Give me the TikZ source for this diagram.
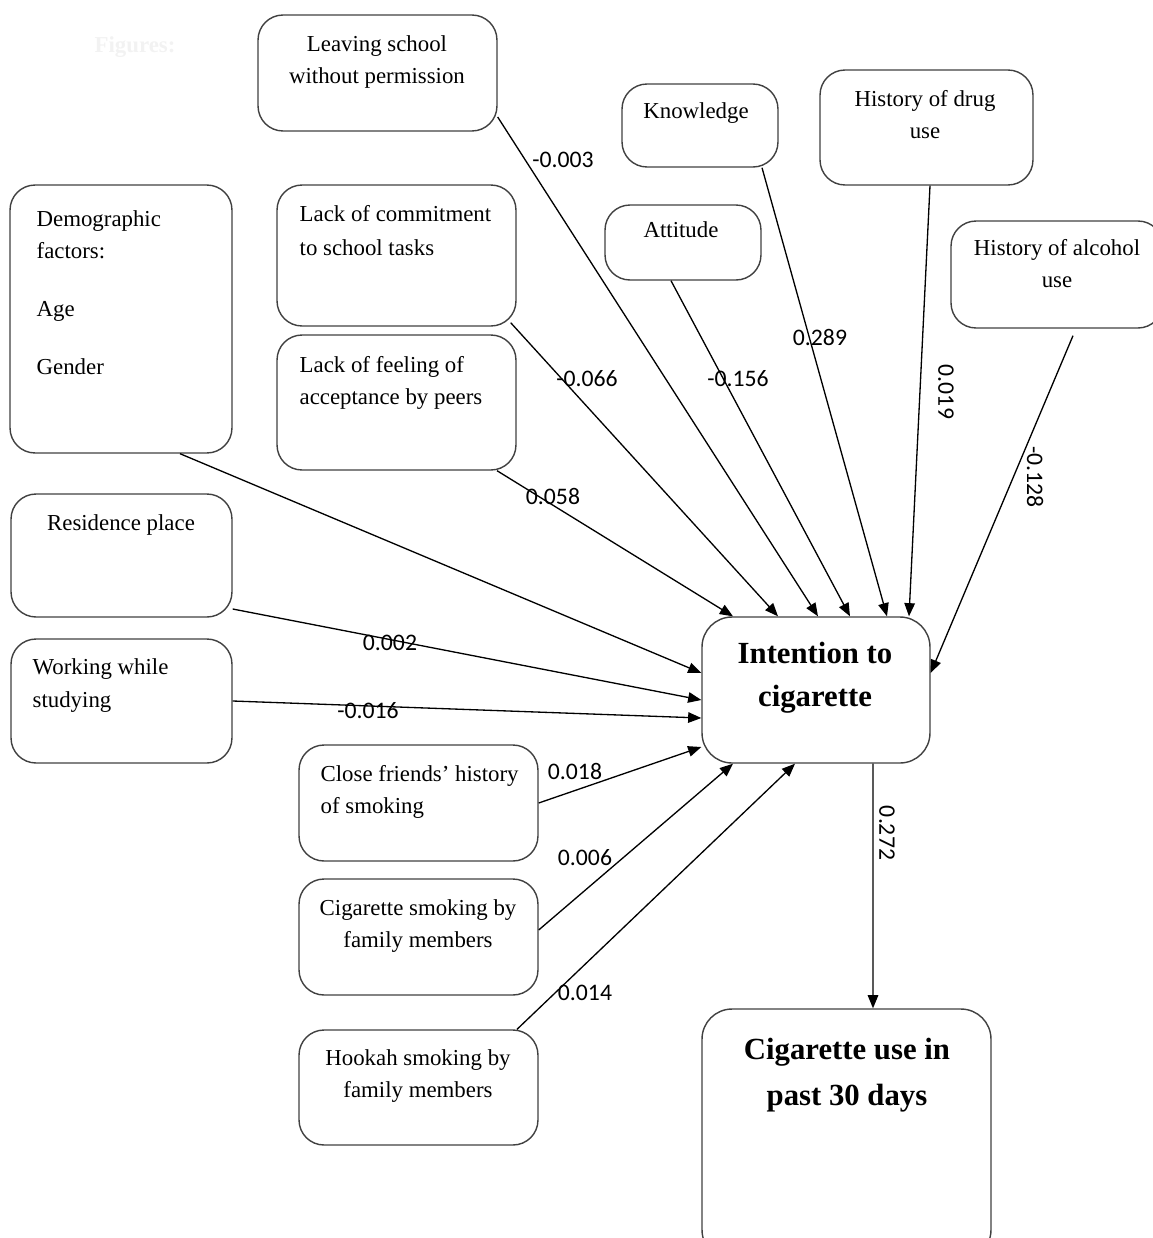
\documentclass[tikz,border=0pt]{standalone}
\usepackage{fontspec}
\setmainfont{Liberation Serif}
\newfontfamily\numfont{Carlito}
\usetikzlibrary{arrows.meta,calc,positioning}
\definecolor{fg}{RGB}{0,0,0}
\definecolor{frame}{RGB}{64,64,64}
\definecolor{ghost}{RGB}{242,242,242}
\tikzset{
  every picture/.style={fg, line width=0.75pt, line join=round,
    >={Triangle[length=7.5pt,width=6pt]}},
  % Kästen
  box/.style={draw=frame, line width=0.8pt, rounded corners=0.5cm, inner sep=0pt},
  txt/.style={inner sep=0pt, font=\fontsize{13}{18}\selectfont},
  big/.style={inner sep=0pt, align=center, font=\fontsize{17.5}{25}\selectfont\bfseries},
  % Pfade mit Koeffizienten
  eff/.style={->},
  num/.style={inner sep=0pt, font=\numfont\fontsize{13.5}{16}\selectfont},
}

\begin{document}
\begin{tikzpicture}[x=0.02cm, y=-0.02cm]
  \useasboundingbox (0,0) rectangle (1153,1238);
  \clip (0,0) rectangle (1153,1238);
  \node[ghost, inner sep=0pt, font=\fontsize{13}{15}\selectfont\bfseries] (fig) at (135,47) {Figures:};
  % Einflussgrößen
  \node[box, minimum width=4.78cm, minimum height=2.32cm] (leave) at (377.5,73) {};
  \node[box, minimum width=3.12cm, minimum height=1.66cm] (know) at (700,125.5) {};
  \node[box, minimum width=4.26cm, minimum height=2.30cm] (drug) at (926.5,127.5) {};
  \node[box, minimum width=4.24cm, minimum height=2.14cm] (alc) at (1057,274.5) {};
  \node[box, minimum width=3.12cm, minimum height=1.50cm] (att) at (683,242.5) {};
  \node[box, minimum width=4.78cm, minimum height=2.82cm] (comm) at (396.5,255.5) {};
  \node[box, minimum width=4.78cm, minimum height=2.70cm] (acc) at (396.5,402.5) {};
  \node[box, minimum width=4.44cm, minimum height=5.36cm] (demo) at (121,319) {};
  \node[box, minimum width=4.42cm, minimum height=2.46cm] (res) at (121.5,555.5) {};
  \node[box, minimum width=4.42cm, minimum height=2.48cm] (work) at (121.5,701) {};
  \node[box, minimum width=4.78cm, minimum height=2.32cm] (friend) at (418.5,803) {};
  \node[box, minimum width=4.78cm, minimum height=2.32cm] (cigf) at (418.5,937) {};
  \node[box, minimum width=4.78cm, minimum height=2.30cm] (hook) at (418.5,1087.5) {};
  % Zielgrößen
  \node[box, rounded corners=0.6cm, minimum width=4.56cm, minimum height=2.92cm] (int) at (816,690) {};
  \node[box, rounded corners=0.6cm, minimum width=5.78cm, minimum height=5.02cm] (past) at (846.5,1134.5) {};
  % Beschriftung oben im Kasten
  \node[txt, anchor=north, align=center] (leave-t) at (377,35) {Leaving school\\without permission};
  \node[txt, anchor=north] (know-t) at (696,102) {Knowledge};
  \node[txt, anchor=north, align=center] (drug-t) at (925,90) {History of drug\\use};
  \node[txt, anchor=north, align=center] (alc-t) at (1057,239) {History of alcohol\\use};
  \node[txt, anchor=north] (att-t) at (681,221) {Attitude};
  \node[txt, anchor=north west, align=left] (comm-t) at (299,205) {Lack of commitment\\[1pt]to school tasks};
  \node[txt, anchor=north west, align=left] (acc-t) at (299,356) {Lack of feeling of\\acceptance by peers};
  \node[txt, anchor=north west, align=left] (demo-t) at (36,210) {Demographic\\factors:\\[15pt]Age\\[15pt]Gender};
  \node[txt, anchor=north] (res-t) at (121,514) {Residence place};
  \node[txt, anchor=north west, align=left] (work-t) at (32,658) {Working while\\[1pt]studying};
  \node[txt, anchor=north west, align=left] (friend-t) at (320,765) {Close friends' history\\of smoking};
  \node[txt, anchor=north, align=center] (cigf-t) at (418,899) {Cigarette smoking by\\family members};
  \node[txt, anchor=north, align=center] (hook-t) at (418,1049) {Hookah smoking by\\family members};
  \node[big, anchor=north] (int-t) at (815,641) {Intention to\\cigarette};
  \node[big, anchor=north, font=\fontsize{17.5}{26.6}\selectfont\bfseries] (past-t) at (847,1037) {Cigarette use in\\past 30 days};
  % Pfeile
  \draw[eff] ($(leave.east)+(0,44)$) -- ($(int.north)+(2,0)$);
  \draw[eff] ($(know.south)+(62,0)$) -- ($(int.north)+(71,0)$);
  \draw[eff] ($(drug.south)+(3.5,0)$) -- ($(int.north)+(93,0)$);
  \draw[eff] ($(alc.south)+(16,7)$) -- ($(int.east)+(0,-17)$);
  \draw[eff] ($(att.south)+(-12,0)$) -- ($(int.north)+(34,0)$);
  \draw[eff] ($(comm.south east)+(-6,-4)$) -- ($(int.north)+(-38,0)$);
  \draw[eff] ($(acc.south)+(100.5,0)$) -- ($(int.north)+(-83,0)$);
  \draw[eff] ($(demo.south)+(59,0)$) -- ($(int.west)+(0,-17)$);
  \draw[eff] ($(res.east)+(0,53.5)$) -- ($(int.west)+(0,10)$);
  \draw[eff] (work.east) -- ($(int.west)+(0,28)$);
  \draw[eff] (friend.east) -- ($(int.west)+(0,57)$);
  \draw[eff] ($(cigf.east)+(0,-7)$) -- ($(int.south)+(-83,0)$);
  \draw[eff] ($(hook.north)+(98.5,0)$) -- ($(int.south)+(-21,0)$);
  \draw[eff] ($(int.south)+(57,0)$) -- ($(past.north)+(26.5,0)$);
  % Koeffizienten
  \node[num] (c-leave) at (563,160) {-0.003};
  \node[num] (c-know) at (820,337) {0.289};
  \node[num, rotate=-90] (c-drug) at (946,392) {0.019};
  \node[num, rotate=-90] (c-alc) at (1035,477) {-0.128};
  \node[num] (c-att) at (738,379) {-0.156};
  \node[num] (c-comm) at (587,379) {-0.066};
  \node[num] (c-acc) at (553,496) {0.058};
  \node[num] (c-res) at (390,643) {0.002};
  \node[num] (c-work) at (368,711) {-0.016};
  \node[num] (c-friend) at (575,771) {0.018};
  \node[num] (c-cigf) at (585,858) {0.006};
  \node[num] (c-hook) at (585,993) {0.014};
  \node[num, rotate=-90] (c-int) at (887,833) {0.272};
\end{tikzpicture}
\end{document}
